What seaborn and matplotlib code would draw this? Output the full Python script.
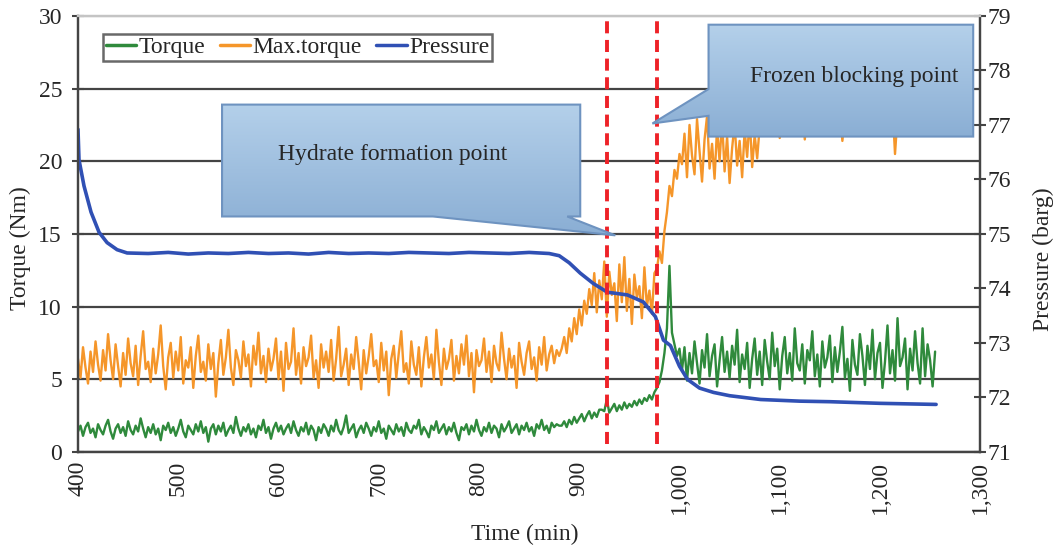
import numpy as np
import pandas as pd
import matplotlib
matplotlib.use("Agg")
import matplotlib.pyplot as plt
import seaborn as sns
from matplotlib.patches import Polygon
from matplotlib.colors import LinearSegmentedColormap
from matplotlib.lines import Line2D

# ---- data ----
# torque / max torque sampled every 2.5 min from 400 to 1255
time_noisy = np.arange(400, 1255.1, 2.5)

# 400 .. 880
torque_flat = [1.4, 1.8, 1.1, 1.7, 2.0, 1.3, 1.6, 1.0, 1.9, 1.5,
               1.2, 1.8, 2.2, 1.4, 0.9, 1.6, 1.9, 1.3, 1.7, 1.1,
               2.1, 1.5, 1.2, 1.8, 1.4, 2.3, 1.6, 1.0, 1.7, 1.3,
               1.9, 1.2, 1.6, 0.8, 1.8, 1.5, 2.0, 1.3, 1.7, 1.1,
               1.6, 2.2, 1.4, 1.0, 1.8, 1.5, 1.2, 1.9, 1.4, 2.1,
               1.3, 1.7, 0.7, 1.6, 1.9, 1.2, 1.8, 1.4, 2.0, 1.1,
               1.5, 1.8, 1.3, 2.4, 1.6, 1.1, 1.7, 1.4, 1.9, 1.2,
               1.6, 1.0, 1.8, 1.5, 2.2, 1.3, 1.7, 0.9, 1.6, 2.0,
               1.4, 1.8, 1.2, 1.6, 1.9, 1.3, 2.1, 1.5, 1.1, 1.7,
               1.4, 2.0, 1.2, 1.8, 1.5, 0.8, 1.7, 1.3, 1.9, 1.6,
               1.1, 1.8, 1.4, 2.2, 1.5, 1.2, 1.7, 2.5, 1.3, 1.6,
               1.9, 1.0, 1.5, 1.8, 1.3, 2.0, 1.6, 1.1, 1.7, 1.4,
               2.1, 1.3, 1.6, 0.9, 1.8, 1.5, 1.2, 1.9, 1.4, 1.7,
               1.1, 2.0, 1.5, 1.3, 1.8, 1.6, 2.2, 1.2, 1.7, 1.4,
               1.0, 1.8, 1.5, 2.1, 1.3, 1.6, 1.9, 1.2, 1.7, 1.4,
               2.0, 1.3, 0.8, 1.7, 1.5, 1.9, 1.2, 1.8, 1.4, 2.2,
               1.5, 1.1, 1.7, 1.4, 2.0, 1.3, 1.8, 1.6, 1.0, 1.9,
               1.4, 1.7, 2.1, 1.3, 1.6, 1.9, 1.2, 1.8, 1.5, 2.0,
               1.4, 1.7, 1.1, 1.9, 1.6, 2.2, 1.5, 1.8, 1.3, 2.0,
               1.7, 1.9, 1.8]
# 882.5 .. 975
torque_rise = [1.8, 2.1, 1.7, 2.2, 1.9, 2.4, 2.0, 2.3, 2.6, 2.1,
               2.5, 2.8, 2.3, 2.7, 2.4, 2.9, 2.9, 2.8, 3.6, 2.7,
               3.0, 3.3, 2.8, 3.2, 2.9, 3.4, 3.0, 3.3, 3.1, 3.5,
               3.2, 3.6, 3.3, 3.7, 3.5, 3.9, 3.6, 4.1]
# 977.5 .. 1000
torque_jump = [4.4, 4.8, 5.6, 6.8, 8.5, 12.8, 8.2, 7.4, 6.6, 7.1]
# 1002.5 .. 1255
torque_after = [5.6, 7.2, 4.9, 6.8, 5.4, 7.6, 6.1, 4.7, 7.0, 5.8,
                8.1, 5.2, 6.6, 7.4, 4.5, 6.3, 7.9, 5.5, 6.9, 5.1,
                7.3, 6.0, 8.4, 4.8, 6.7, 5.7, 7.5, 4.4, 6.4, 7.8,
                5.3, 6.9, 4.6, 7.7, 6.2, 5.0, 8.2, 5.9, 7.1, 4.3,
                6.6, 7.9, 5.4, 6.8, 4.9, 8.5, 6.1, 5.6, 7.4, 4.7,
                7.0, 6.3, 8.3, 5.2, 6.7, 4.5, 7.6, 5.8, 6.5, 8.0,
                4.8, 7.2, 5.5, 6.9, 8.6, 5.1, 6.4, 4.2, 7.7, 6.0,
                5.3, 8.1, 6.6, 4.6, 7.3, 5.7, 8.4, 5.0, 6.8, 7.5,
                4.4, 6.2, 8.7, 5.4, 7.0, 4.9, 9.2, 5.9, 6.5, 7.8,
                4.3, 7.1, 5.6, 8.3, 6.1, 4.7, 8.5, 5.2, 7.4, 6.3,
                4.5, 6.9]

maxtorque_flat = [6.4, 5.1, 7.2, 5.8, 4.7, 6.9, 5.5, 7.6, 6.0, 4.9,
                  7.0, 5.6, 8.1, 6.3, 5.0, 7.4, 5.9, 4.5, 6.8, 5.3,
                  7.8, 6.1, 5.2, 7.3, 4.6, 6.6, 8.3, 5.7, 6.2, 4.8,
                  7.1, 5.4, 6.7, 8.7, 5.9, 4.3, 6.5, 7.5, 5.1, 6.9,
                  5.6, 7.9, 4.7, 6.3, 5.8, 7.2, 4.4, 6.6, 8.0, 5.5,
                  6.2, 4.9, 7.4, 5.7, 6.8, 3.8, 6.1, 7.7, 5.3, 6.5,
                  8.4, 5.8, 4.6, 7.0, 6.3, 5.1, 7.6, 5.9, 6.7, 4.5,
                  7.3, 6.0, 8.2, 5.4, 6.6, 4.8, 7.1, 5.6, 6.4, 7.8,
                  5.0, 6.9, 4.2, 7.5, 5.7, 6.2, 8.5, 5.3, 6.8, 4.7,
                  7.2, 5.9, 6.5, 8.0, 5.1, 6.3, 4.4, 7.4, 5.8, 6.9,
                  5.5, 7.7, 4.9, 6.4, 8.6, 5.2, 6.0, 7.1, 4.6, 6.7,
                  5.7, 7.9, 6.2, 4.3, 7.0, 5.4, 6.6, 8.1, 5.9, 6.3,
                  4.8, 7.5, 5.6, 6.9, 3.9, 6.4, 7.3, 5.1, 6.8, 8.3,
                  5.5, 6.1, 4.7, 7.6, 6.0, 5.3, 7.2, 4.5, 6.5, 7.9,
                  5.8, 6.7, 5.0, 8.4, 6.2, 4.6, 7.1, 5.7, 6.4, 7.7,
                  4.9, 6.6, 5.4, 7.4, 6.0, 8.0, 5.2, 6.8, 4.1, 7.0,
                  5.9, 6.3, 7.8, 5.5, 6.9, 4.8, 7.3, 6.1, 5.6, 8.2,
                  6.4, 5.0, 7.1, 5.8, 6.6, 4.4, 7.5, 6.2, 5.3, 6.8,
                  7.6, 5.7, 6.5, 4.9, 7.2, 6.0, 7.9, 5.6, 6.7, 7.3,
                  6.1, 7.0, 6.6]
maxtorque_rise = [7.1, 7.9, 6.8, 8.5, 7.6, 9.2, 8.1, 9.8, 8.7, 10.4,
                  9.5, 11.2, 10.1, 12.3, 9.6, 11.8, 10.5, 13.1, 9.3, 12.4,
                  10.8, 11.6, 9.0, 12.9, 10.3, 13.4, 9.7, 11.9, 8.8, 12.2,
                  10.6, 11.4, 9.2, 12.7, 10.0, 11.1, 9.5, 12.3]
maxtorque_jump = [12.6, 13.8, 13.0, 15.2, 16.5, 18.3, 17.6, 19.4, 18.8, 20.5]
maxtorque_after = [19.8, 21.9, 18.9, 22.5, 20.4, 19.1, 22.9, 20.7, 18.6, 21.5,
                   23.1, 19.5, 21.2, 18.8, 22.3, 20.0, 22.8, 19.3, 21.7, 18.5,
                   20.9, 22.6, 19.7, 21.4, 18.9, 22.1, 20.3, 23.0, 19.6, 21.8,
                   20.2, 22.4,
                   23.2, 22.5, 24.1, 22.9, 23.6, 22.2, 23.9, 21.6, 23.4, 22.8,
                   24.3, 22.6, 23.5, 22.0, 23.8, 22.9, 24.2, 21.5, 23.3, 22.7,
                   23.9, 22.4, 24.0, 23.1, 22.6, 23.7, 22.1, 24.4, 22.8, 23.5,
                   22.3, 23.8, 21.4, 23.2, 22.9, 24.1, 22.5, 23.6, 22.0, 23.9,
                   22.7, 24.2, 23.0, 22.4, 23.7, 21.9, 23.4, 22.8, 24.0, 22.6,
                   23.5, 22.2, 23.9, 20.5, 23.1, 22.7, 24.3, 22.5, 23.6, 22.9,
                   23.8, 22.4, 24.0, 22.8, 23.3, 22.1, 23.7, 22.6, 23.9, 23.0]

torque = torque_flat + torque_rise + torque_jump + torque_after
max_torque = maxtorque_flat + maxtorque_rise + maxtorque_jump + maxtorque_after

# pressure (barg), right axis
time_pressure = [400, 401, 406, 413, 421, 429, 439, 449, 470, 490, 510, 530,
                 550, 570, 590, 610, 630, 650, 670, 690, 710, 730, 750, 770,
                 790, 810, 830, 850, 870, 880, 890, 901, 914, 928, 948, 964,
                 976, 984, 991, 1000, 1008, 1020, 1034, 1050, 1081, 1120,
                 1150, 1200, 1256]
pressure = [76.92, 76.36, 75.88, 75.40, 75.03, 74.84, 74.71, 74.65, 74.64,
            74.66, 74.63, 74.65, 74.64, 74.66, 74.64, 74.65, 74.63, 74.66,
            74.64, 74.65, 74.64, 74.66, 74.65, 74.64, 74.66, 74.65, 74.64,
            74.66, 74.64, 74.60, 74.47, 74.28, 74.09, 73.93, 73.88, 73.75,
            73.48, 73.05, 72.95, 72.57, 72.33, 72.17, 72.09, 72.03, 71.96,
            71.93, 71.92, 71.89, 71.87]

hydrate_time = 928
frozen_time = 978

x_ticks = [400, 500, 600, 700, 800, 900, 1000, 1100, 1200, 1300]
x_tick_labels = [f"{v:,}" for v in x_ticks]
left_ticks = [0, 5, 10, 15, 20, 25, 30]
right_ticks = [71, 72, 73, 74, 75, 76, 77, 78, 79]

df = pd.DataFrame({"time": time_noisy, "torque": torque, "max_torque": max_torque})
dfp = pd.DataFrame({"time": time_pressure, "pressure": pressure})

# ---- style ----
sns.set_style("white")
plt.rcParams["font.family"] = ["Liberation Serif", "DejaVu Serif"]
plt.rcParams["font.size"] = 17

green = "#2f8a3c"
orange = "#f5962a"
blue = "#3050b4"
dark = "#444444"

fig, ax = plt.subplots(figsize=(10.54, 5.51), dpi=100)
fig.subplots_adjust(left=0.074, right=0.93, top=0.971, bottom=0.18)
ax2 = ax.twinx()

sns.lineplot(data=df, x="time", y="max_torque", ax=ax, color=orange, lw=1.7, zorder=2)
sns.lineplot(data=df, x="time", y="torque", ax=ax, color=green, lw=1.7, zorder=3)
sns.lineplot(data=dfp, x="time", y="pressure", ax=ax2, color=blue, lw=2.6, zorder=2)

ax.set_xticks(x_ticks)
ax.set_xticklabels(x_tick_labels, rotation=90)
ax.set_yticks(left_ticks)
ax2.set_yticks(right_ticks)
ax.set_xlabel("")
ax.set_ylabel("")
ax2.set_ylabel("")

ax.set_axisbelow(True)
ax.yaxis.grid(True, color=dark, lw=1.6)
ax.get_ygridlines()[-1].set_color("#c4c4c4")

for a in (ax, ax2):
    for s in a.spines.values():
        s.set_color(dark)
        s.set_linewidth(1.6)
    a.spines["top"].set_color("#c4c4c4")
ax.tick_params(axis="both", direction="inout", length=9, width=1.5, color=dark, labelsize=17)
ax.tick_params(axis="y", pad=7)
ax.tick_params(axis="x", pad=2)
ax2.tick_params(axis="y", direction="inout", length=9, width=1.5, color=dark, labelsize=17, pad=1)

# red dashed marker lines
for t in (hydrate_time, frozen_time):
    ax2.axvline(t, ymin=0.017, ymax=0.99, color="#ee2228", lw=2.8,
                dashes=(3.1, 1.7), zorder=3)

# callout boxes with gradient fill (left-axis coords)
cmap = LinearSegmentedColormap.from_list("callout", ["#b4d0ea", "#8aaed4"])
grad = np.linspace(0, 1, 256).reshape(-1, 1)

hydrate_shape = [(543.7, 23.9), (901, 23.9), (901, 16.2), (888, 16.2),
                 (936, 14.9), (754, 16.2), (543.7, 16.2)]
frozen_shape = [(1029, 29.4), (1293, 29.4), (1293, 21.7), (1029, 21.7),
                (1029, 23.13), (973, 22.6), (1029, 24.97)]

for shape in (hydrate_shape, frozen_shape):
    xs = [p[0] for p in shape]
    ys = [p[1] for p in shape]
    poly = Polygon(shape, closed=True, facecolor="none", edgecolor="#6e93c0",
                   lw=1.5, transform=ax.transData, zorder=6)
    ax2.add_patch(poly)
    im = ax2.imshow(grad, cmap=cmap, extent=(min(xs), max(xs), min(ys), max(ys)),
                    origin="upper", aspect="auto", transform=ax.transData, zorder=5)
    im.set_clip_path(poly)

ax2.text(714, 20.07, "Hydrate formation point", ha="center", va="baseline",
         fontsize=17, transform=ax.transData, zorder=7)
ax2.text(1174, 25.45, "Frozen blocking point", ha="center", va="baseline",
         fontsize=17, transform=ax.transData, zorder=7)

ax.set_xlim(400, 1300)
ax2.set_xlim(400, 1300)
ax.set_ylim(0, 30)
ax2.set_ylim(71, 79)

handles = [Line2D([], [], color=green, lw=2.5),
           Line2D([], [], color=orange, lw=2.5),
           Line2D([], [], color=blue, lw=2.5)]
leg = ax2.legend(handles, ["Torque", "Max.torque", "Pressure"], ncol=3,
                 loc="upper left", bbox_to_anchor=(0.028, 0.958), fontsize=17,
                 frameon=True, fancybox=False, handlelength=1.3, handletextpad=0.1,
                 columnspacing=0.6, borderpad=0.1, borderaxespad=0)
leg.get_frame().set_edgecolor(dark)
leg.get_frame().set_linewidth(1.8)
leg.set_zorder(10)

fig.text(0.019, 0.55, "Torque (Nm)", rotation=90, ha="center", va="center", fontsize=17)
fig.text(0.9896, 0.53, "Pressure (barg)", rotation=90, ha="center", va="center", fontsize=17)
fig.text(0.498, 0.03, "Time (min)", ha="center", va="center", fontsize=17)

fig.savefig("out.png", dpi=100)
